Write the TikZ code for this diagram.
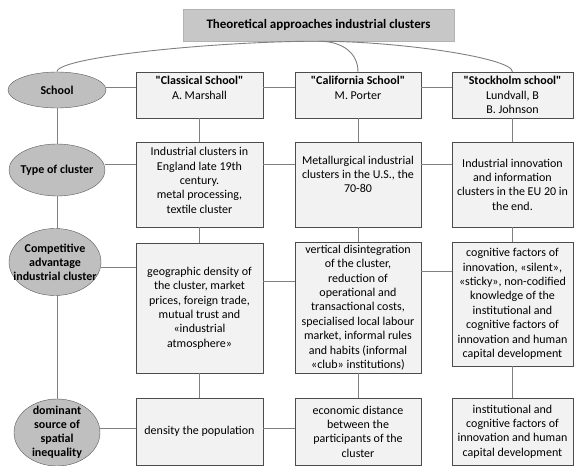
\documentclass[tikz,border=0pt]{standalone}
\usepackage{fontspec}
\setmainfont{Carlito}[Ligatures=TeXOff]
\usepackage{tikz}
\usetikzlibrary{shapes.geometric}
\usetikzlibrary{positioning}

\begin{document}
\begin{tikzpicture}[x=1pt, y=-1pt,
    every node/.style={font=\fontsize{12}{14.4}\selectfont, align=center, inner sep=0pt},
    oval/.style={ellipse, draw=black!65, fill=black!25, minimum width=#1},
    ovaltext/.style={font=\fontsize{12}{14}\selectfont\bfseries},
    cell/.style={rectangle, draw=black!70, fill=black!5, minimum width=#1},
    link/.style={draw=black!50, line width=0.9pt}]

    \useasboundingbox (0, 0) rectangle (574, 466);

    % title
    \node[rectangle, fill=black!22, draw=black!30, minimum width=271pt, minimum height=32pt,
      font=\fontsize{13}{15}\selectfont\bfseries]
      (title) at (318.5, 25) {Theoretical approaches industrial clusters};

    % left column
    \node[oval=98pt, minimum height=36pt] (school) at (57, 90) {};
    \node[ovaltext] (schooltxt) at (school) {School};
    \node[oval=96pt, minimum height=52pt] (type) at (57, 170) {};
    \node[ovaltext] (typetxt) at (type) {Type of cluster};
    \node[oval=92pt, minimum height=67pt] (comp) at (55, 262) {};
    \node[ovaltext] (comptxt) at (comp) {Competitive\\advantage\\industrial cluster};
    \node[oval=86pt, minimum height=67pt] (source) at (57, 432.5) {};
    \node[ovaltext] (sourcetxt) at (source) {dominant\\source of\\spatial\\inequality};

    % schools
    \node[cell=127pt, minimum height=46pt] (classic) at (199.5, 95)
      {\textbf{"Classical School"}\\A. Marshall\\~};
    \node[cell=126pt, minimum height=46pt] (calif) at (358, 95)
      {\textbf{"California School"}\\M. Porter\\~};
    \node[cell=121pt, minimum height=46pt] (stock) at (512.5, 95)
      {\textbf{"Stockholm school"}\\Lundvall, B\\B. Johnson};

    % type of cluster
    \node[cell=127pt, minimum height=85pt] (england) at (199.5, 184.5)
      {Industrial clusters in\\England late 19th\\century.\\metal processing,\\textile cluster\\[-6pt]~};
    \node[cell=126pt, minimum height=85pt] (usa) at (358, 184.5)
      {Metallurgical industrial\\clusters in the U.S., the\\70-80\\[6pt]~};
    \node[cell=121pt, minimum height=85pt] (eu) at (512.5, 184.5)
      {Industrial innovation\\and information\\clusters in the EU 20 in\\the end.};

    % competitive advantage
    \node[cell=127pt, minimum height=130pt] (density) at (199.5, 308)
      {geographic density of\\the cluster, market\\prices, foreign trade,\\mutual trust and\\«industrial\\atmosphere»};
    \node[cell=126pt, minimum height=131pt] (disint) at (358, 307.5)
      {vertical disintegration\\of the cluster,\\reduction of\\operational and\\transactional costs,\\specialised local labour\\market, informal rules\\and habits (informal\\«club» institutions)};
    \node[cell=121pt, minimum height=124pt] (cognit) at (512.5, 304)
      {cognitive factors of\\innovation, «silent»,\\«sticky», non-codified\\knowledge of the\\institutional and\\cognitive factors of\\innovation and human\\capital development};

    % spatial inequality
    \node[cell=127pt, minimum height=67pt] (popul) at (199.5, 431.5)
      {density the population};
    \node[cell=126pt, minimum height=67pt] (econ) at (358, 431.5)
      {economic distance\\between the\\participants of the\\cluster};
    \node[cell=121pt, minimum height=67pt] (human) at (512.5, 431.5)
      {institutional and\\cognitive factors of\\innovation and human\\capital development};

    % arcs from the title
    \draw[link] (title.south) .. controls +(-100, 0) and +(0, -15) .. (school.north);
    \draw[link] (title.south) .. controls +(25, 0) and +(0, -18) .. (calif.north);
    \draw[link] (title.south) .. controls +(80, 0) and +(0, -14) .. (stock.north);

    % rows
    \draw[link] (school.east |- 0,87) -- (classic.west |- 0,87);
    \draw[link] (classic.east |- 0,87) -- (calif.west |- 0,87);
    \draw[link] (calif.east |- 0,87) -- (stock.west |- 0,87);

    \draw[link] (type.east |- 0,164) -- (england.west |- 0,164);
    \draw[link] (england.east |- 0,164) -- (usa.west |- 0,164);
    \draw[link] (usa.east |- 0,164) -- (eu.west |- 0,164);

    \draw[link] (comp.east |- 0,267) -- (density.west |- 0,267);
    \draw[link] (density.east |- 0,281) -- (disint.west |- 0,281);
    \draw[link] (disint.east |- 0,271) -- (cognit.west |- 0,271);

    \draw[link] (source.east |- 0,428) -- (popul.west |- 0,428);
    \draw[link] (popul.east |- 0,428) -- (econ.west |- 0,428);

    % columns
    \draw[link] (school) -- (type);
    \draw[link] (type) -- (comp.north -| type);
    \draw[link] (comp.south -| type) -- (source);

    \draw[link] (classic) -- (england);
    \draw[link] (england) -- (density);
    \draw[link] (density) -- (popul);

    \draw[link] (calif) -- (usa);
    \draw[link] (usa) -- (disint);
    \draw[link] (disint) -- (econ);

    \draw[link] (stock) -- (eu);
    \draw[link] (eu) -- (cognit);
    \draw[link] (cognit) -- (human);

  \end{tikzpicture}
\end{document}
